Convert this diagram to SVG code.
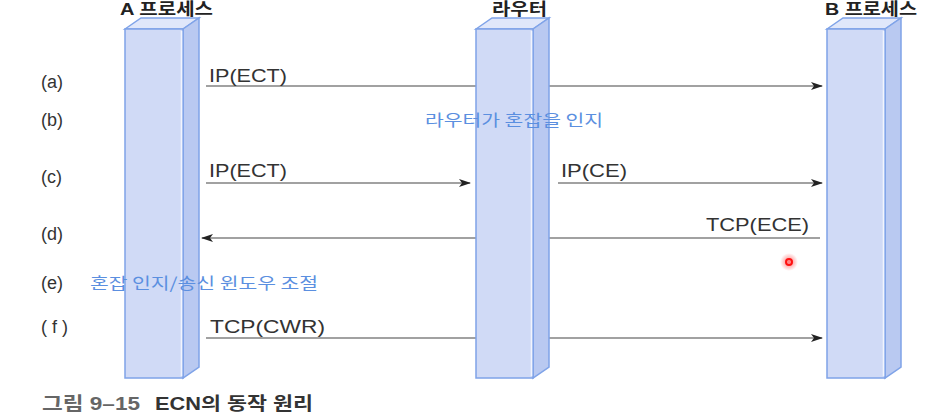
<svg xmlns="http://www.w3.org/2000/svg" width="940" height="417" viewBox="0 0 940 417">
<defs>
<style>
.front{fill:#d0daf6;stroke:#7fa3e8;stroke-width:1.5}
.side{fill:#b9c9f1;stroke:#7fa3e8;stroke-width:1.5}
.top{fill:#e0e7fa;stroke:#7fa3e8;stroke-width:1.5}
.hl{stroke:#f2f5fd;stroke-width:1.5}
.hdr{font-family:"Liberation Sans","Noto Sans CJK KR",sans-serif;font-size:17px;font-weight:bold;fill:#222}
.row{font-family:"Liberation Sans","Noto Sans CJK KR",sans-serif;font-size:18px;fill:#333}
.msg{font-family:"Liberation Sans","Noto Sans CJK KR",sans-serif;font-size:18px;fill:#333}
.note{font-family:"Noto Sans CJK KR",sans-serif;font-size:16px;fill:#5b8fe0}
.ln{stroke:#444;stroke-width:1.2;fill:none}
.cap{font-family:"Liberation Sans","Noto Sans CJK KR",sans-serif;font-size:18px;font-weight:bold}
</style>
<marker id="ah" markerWidth="12" markerHeight="8" refX="11" refY="4" orient="auto" markerUnits="userSpaceOnUse">
<path d="M0,0 L12,4 L0,8 L3,4 Z" fill="#222"/>
</marker>
<radialGradient id="glow"><stop offset="0" stop-color="#ff2020" stop-opacity="0.6"/><stop offset="1" stop-color="#ff2020" stop-opacity="0"/></radialGradient>
</defs>
<rect width="940" height="417" fill="#fff"/>

<g id="connectors">
<line class="ln" x1="206" y1="86" x2="822" y2="86" marker-end="url(#ah)"/>
<line class="ln" x1="206" y1="183" x2="470" y2="183" marker-end="url(#ah)"/>
<line class="ln" x1="558" y1="183" x2="822" y2="183" marker-end="url(#ah)"/>
<line class="ln" x1="820" y1="238" x2="202" y2="238" marker-end="url(#ah)"/>
<line class="ln" x1="206" y1="338" x2="822" y2="338" marker-end="url(#ah)"/>
</g>

<g id="procA">
<polygon class="top" points="125,29 141,18 199,18 183,29"/>
<polygon class="side" points="183,29 199,18 199,367 183,378"/>
<rect class="front" x="125" y="29" width="58" height="349"/>
<line class="hl" x1="181.5" y1="31" x2="181.5" y2="376"/>
<text class="hdr" x="120" y="15" textLength="93" lengthAdjust="spacingAndGlyphs">A 프로세스</text>
</g>

<g id="router">
<polygon class="top" points="476,29 492,18 549,18 533,29"/>
<polygon class="side" points="533,29 549,18 549,367 533,378"/>
<rect class="front" x="476" y="29" width="57" height="349"/>
<line class="hl" x1="531.5" y1="31" x2="531.5" y2="376"/>
<text class="hdr" x="492" y="15" textLength="55" lengthAdjust="spacingAndGlyphs">라우터</text>
</g>

<g id="procB">
<polygon class="top" points="827,29 843,18 901,18 885,29"/>
<polygon class="side" points="885,29 901,18 901,367 885,378"/>
<rect class="front" x="827" y="29" width="58" height="349"/>
<line class="hl" x1="883.5" y1="31" x2="883.5" y2="376"/>
<text class="hdr" x="825" y="15" textLength="92" lengthAdjust="spacingAndGlyphs">B 프로세스</text>
</g>

<g id="labels">
<text class="row" x="41" y="88">(a)</text>
<text class="row" x="41" y="126">(b)</text>
<text class="row" x="41" y="183">(c)</text>
<text class="row" x="41" y="240">(d)</text>
<text class="row" x="41" y="289">(e)</text>
<text class="row" x="41" y="333">( f )</text>

<text class="msg" x="209" y="82" textLength="78" lengthAdjust="spacingAndGlyphs">IP(ECT)</text>
<text class="msg" x="209" y="177" textLength="78" lengthAdjust="spacingAndGlyphs">IP(ECT)</text>
<text class="msg" x="561" y="177" textLength="66" lengthAdjust="spacingAndGlyphs">IP(CE)</text>
<text class="msg" x="706" y="231" textLength="103" lengthAdjust="spacingAndGlyphs">TCP(ECE)</text>
<text class="msg" x="210" y="333" textLength="115" lengthAdjust="spacingAndGlyphs">TCP(CWR)</text>

<text class="note" x="425" y="126" textLength="178" lengthAdjust="spacingAndGlyphs">라우터가 혼잡을 인지</text>
<text class="note" x="90" y="289" textLength="228" lengthAdjust="spacingAndGlyphs">혼잡 인지/송신 윈도우 조절</text>
</g>

<g id="pointer">
<circle cx="789" cy="262" r="9" fill="url(#glow)"/>
<circle cx="789" cy="262" r="3" fill="none" stroke="#ff1010" stroke-width="2"/>
</g>

<g id="caption">
<text class="cap" x="42" y="410" fill="#666" textLength="98" lengthAdjust="spacingAndGlyphs">그림 9–15</text>
<text class="cap" x="155" y="410" fill="#333" textLength="158" lengthAdjust="spacingAndGlyphs">ECN의 동작 원리</text>
</g>
</svg>
